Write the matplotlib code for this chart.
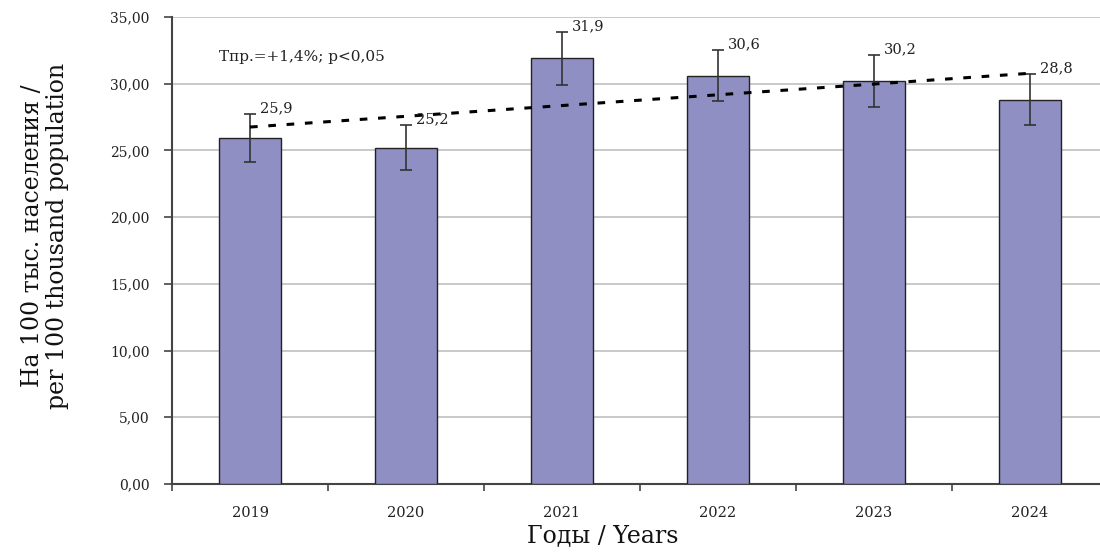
import numpy as np
import matplotlib
matplotlib.use("Agg")
import matplotlib.pyplot as plt
from matplotlib.ticker import FuncFormatter, FixedLocator

years = ["2019", "2020", "2021", "2022", "2023", "2024"]
values = [25.9, 25.2, 31.9, 30.6, 30.2, 28.8]
errors = [1.8, 1.7, 2.0, 1.9, 1.95, 1.9]
value_labels = ["25,9", "25,2", "31,9", "30,6", "30,2", "28,8"]
annotation = "Тпр.=+1,4%; p<0,05"
ylabel = "На 100 тыс. населения /\nper 100 thousand population"
xlabel = "Годы / Years"

plt.rcParams['font.family'] = ['DejaVu Serif']

fig = plt.figure(figsize=(11, 5.52), dpi=100)
ax = fig.add_axes([0.1564, 0.1232, 0.8436, 0.8460])

x = np.arange(len(years))
ax.bar(x, values, width=0.40, color="#8f8fc4", edgecolor="#222222", linewidth=1.0, zorder=3)
ax.errorbar(x, values, yerr=errors, fmt='none', ecolor="#333333", elinewidth=1.2,
            capsize=4, capthick=1.2, zorder=4)

# trend line (linear fit)
coef = np.polyfit(x, values, 1)
tx = np.linspace(0, len(years) - 1, 50)
ax.plot(tx, np.polyval(coef, tx), color="black", linewidth=2.2, dashes=(2.5, 3.5), zorder=5)

for xi, v, e, lab in zip(x, values, errors, value_labels):
    ax.annotate(lab, (xi, v + e), xytext=(7, -1), textcoords="offset points",
                ha="left", va="bottom", fontsize=10.5, color="#222222", zorder=6)

ax.text(-0.2, 32.0, annotation, fontsize=11, color="#222222", va="center", ha="left")

ax.set_xlim(-0.5, 5.45)
ax.set_ylim(0, 35)
ax.set_yticks(np.arange(0, 36, 5))
ax.yaxis.set_major_formatter(FuncFormatter(lambda v, p: f"{v:.2f}".replace(".", ",")))
ax.yaxis.grid(True, color="#c0c0c0", linewidth=1.2, zorder=0)
ax.set_axisbelow(True)

ax.set_xticks(x)
ax.set_xticklabels(years)
ax.xaxis.set_minor_locator(FixedLocator(np.arange(-0.5, 5.6, 1.0)))
ax.tick_params(axis='x', which='major', length=0, pad=16, labelsize=10.5, labelcolor="#222222")
ax.tick_params(axis='x', which='minor', length=5, width=1.2, color="#444444", direction='out')
ax.tick_params(axis='y', which='major', length=6, width=1.2, color="#444444", pad=10,
               labelsize=10, labelcolor="#222222")

for s in ["top", "right"]:
    ax.spines[s].set_visible(False)
ax.spines["left"].set_color("#444444")
ax.spines["left"].set_linewidth(1.5)
ax.spines["bottom"].set_color("#444444")
ax.spines["bottom"].set_linewidth(1.5)

fig.text(603 / 1100, 1 - 536 / 552, xlabel, fontsize=17, ha="center", va="center", color="#111111")
fig.text(45 / 1100, 1 - 236 / 552, ylabel, fontsize=17, ha="center", va="center",
         rotation=90, color="#111111", linespacing=1.1, multialignment="center")

fig.savefig("out.png", dpi=100)
